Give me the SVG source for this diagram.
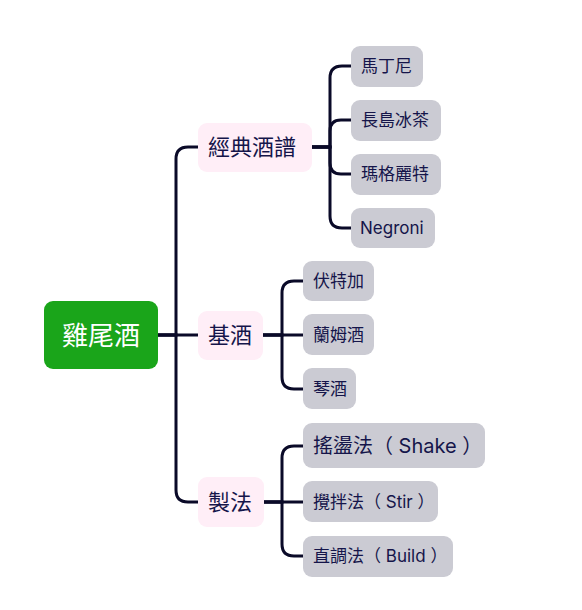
<svg xmlns="http://www.w3.org/2000/svg" width="582" height="610" viewBox="0 0 582 610">
<style>
  text { font-family: Inter, "Noto Sans CJK TC", sans-serif; fill: #15154a; dominant-baseline: central; }
  .root rect { fill: #1aa51a; }
  .root text { fill: #ffffff; font-size: 26px; text-anchor: middle; }
  .l1 rect { fill: #ffeef7; }
  .l1 text { font-size: 22px; }
  .l2 rect { fill: #cbcbd3; }
  .l2 text { font-size: 17px; }
  .conn path { fill: none; stroke: #0a0a28; stroke-width: 3; stroke-linecap: round; }
</style>
<rect width="582" height="610" fill="#ffffff"/>
<g class="conn" id="connectors">
  <path d="M158,335 H198"/>
  <path d="M158,335 H176 V159 Q176,147 188,147 H198"/>
  <path d="M158,335 H176 V490 Q176,502 188,502 H198"/>
  <path d="M312,147 H330 V78 Q330,66 342,66 H351"/>
  <path d="M312,147 H330 V131 Q330,120 341,120 H351"/>
  <path d="M312,147 H330 V163 Q330,174 341,174 H351"/>
  <path d="M312,147 H330 V216 Q330,228 342,228 H351"/>
  <path d="M263,335 H303"/>
  <path d="M263,335 H282 V293 Q282,281 294,281 H303"/>
  <path d="M263,335 H282 V377 Q282,389 294,389 H303"/>
  <path d="M264,502 H303"/>
  <path d="M264,502 H282 V458 Q282,446 294,446 H303"/>
  <path d="M264,502 H282 V544 Q282,556 294,556 H303"/>
</g>
<g id="root" class="root"><rect x="44" y="301" width="114" height="68" rx="9"/><text x="101" y="335">雞尾酒</text></g>
<g id="n-classic" class="l1"><rect x="198" y="123" width="114" height="49" rx="9"/><text x="208" y="147">經典酒譜</text></g>
<g id="n-base" class="l1"><rect x="198" y="311" width="65" height="49" rx="9"/><text x="208" y="335">基酒</text></g>
<g id="n-method" class="l1"><rect x="198" y="477" width="66" height="50" rx="9"/><text x="208" y="502">製法</text></g>
<g id="n-martini" class="l2"><rect x="351" y="46" width="72" height="41" rx="9"/><text x="361" y="66">馬丁尼</text></g>
<g id="n-lit" class="l2"><rect x="351" y="100" width="90" height="41" rx="9"/><text x="361" y="120">長島冰茶</text></g>
<g id="n-margarita" class="l2"><rect x="351" y="154" width="90" height="41" rx="9"/><text x="361" y="174">瑪格麗特</text></g>
<g id="n-negroni" class="l2"><rect x="351" y="208" width="84" height="40" rx="9"/><text x="360" y="228">Negroni</text></g>
<g id="n-vodka" class="l2"><rect x="303" y="261" width="71" height="40" rx="9"/><text x="313" y="281">伏特加</text></g>
<g id="n-rum" class="l2"><rect x="303" y="314" width="71" height="41" rx="9"/><text x="313" y="335">蘭姆酒</text></g>
<g id="n-gin" class="l2"><rect x="303" y="368" width="53" height="41" rx="9"/><text x="313" y="389">琴酒</text></g>
<g id="n-shake" class="l2"><rect x="303" y="423" width="182" height="45" rx="9"/><text x="313" y="446" style="font-size:20px">搖盪法（ Shake ）</text></g>
<g id="n-stir" class="l2"><rect x="303" y="481" width="135" height="41" rx="9"/><text x="313" y="502">攪拌法（ Stir ）</text></g>
<g id="n-build" class="l2"><rect x="303" y="536" width="150" height="41" rx="9"/><text x="313" y="556">直調法（ Build ）</text></g>
</svg>
